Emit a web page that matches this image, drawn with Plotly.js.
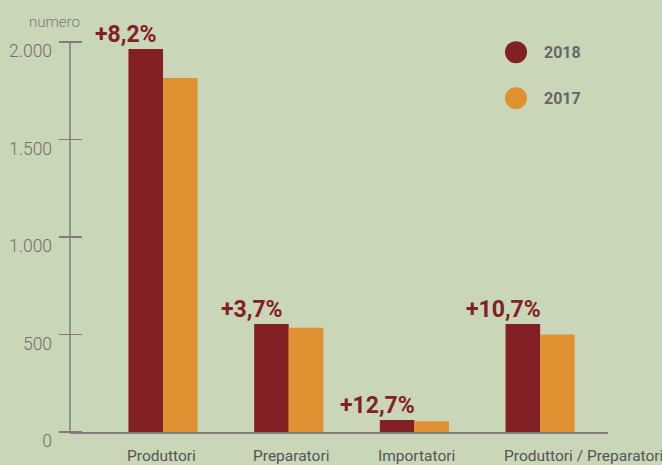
<!DOCTYPE html>
<html>
<head>
<meta charset="utf-8">
<script src="https://cdn.plot.ly/plotly-3.0.1.min.js"></script>
<style>html,body{margin:0;padding:0;background:#c9d7b8;}#chart{width:662px;height:465px;}</style>
</head>
<body>
<div id="chart"></div>
<script>
var categories = ["Produttori", "Preparatori", "Importatori", "Produttori / Preparatori"];
var values2018 = [1964, 554, 62, 554];
var values2017 = [1815, 534, 55, 500];
var changeLabels = ["+8,2%", "+3,7%", "+12,7%", "+10,7%"];
var seriesNames = ["2018", "2017"];
var seriesColors = ["#832025", "#e09232"];
var yTickVals = [0, 500, 1000, 1500, 2000];
var yTickText = ["0", "500", "1.000", "1.500", "2.000"];

var traces = [
  {type: "bar", x: categories, y: values2018, name: seriesNames[0], marker: {color: seriesColors[0]}, showlegend: false, hoverinfo: "skip"},
  {type: "bar", x: categories, y: values2017, name: seriesNames[1], marker: {color: seriesColors[1]}, showlegend: false, hoverinfo: "skip"}
];

var annotations = [];
var shapes = [];
categories.forEach(function(c, i) {
  annotations.push({
    x: i, y: values2018[i], xref: "x", yref: "y",
    text: changeLabels[i], showarrow: false,
    xanchor: "center", yanchor: "bottom", xshift: -37, yshift: -1,
    font: {family: "Roboto, sans-serif", size: 23, color: "#832025", weight: 700}
  });
  annotations.push({
    x: i, y: 0, xref: "x", yref: "paper",
    text: c, showarrow: false,
    xanchor: "left", yanchor: "top", xshift: -38, yshift: -13,
    font: {family: "Roboto, sans-serif", size: 15.5, color: "#555555"}
  });
});
annotations.push({
  x: 0.0223, y: 1.051, xref: "paper", yref: "paper", xanchor: "right", yanchor: "middle",
  text: "numero", showarrow: false,
  font: {family: "Roboto, sans-serif", size: 15, color: "#777777", weight: 300}
});
// vertical axis line at the left edge of the plot area
shapes.push({
  type: "line", xref: "paper", yref: "paper", layer: "above",
  x0: 0, x1: 0, y0: 0, y1: 1, line: {color: "#7d7d7d", width: 1.5}
});
var legendY = [0.974, 0.856];
seriesNames.forEach(function(n, i) {
  shapes.push({
    type: "circle", xref: "paper", yref: "paper", xsizemode: "pixel", ysizemode: "pixel",
    xanchor: 0.829, yanchor: legendY[i], x0: -11, x1: 11, y0: -11, y1: 11,
    fillcolor: seriesColors[i], line: {width: 0}
  });
  annotations.push({
    x: 0.877, y: legendY[i], xref: "paper", yref: "paper", xanchor: "left", yanchor: "middle",
    text: n, showarrow: false,
    font: {family: "Roboto, sans-serif", size: 16, color: "#666666", weight: 700}
  });
});

var layout = {
  width: 662, height: 465,
  margin: {l: 70, r: 54, t: 42, b: 33, pad: 0},
  paper_bgcolor: "#c9d7b8", plot_bgcolor: "#c9d7b8",
  bargap: 0.45, bargroupgap: 0, barmode: "group",
  showlegend: false,
  xaxis: {
    type: "category", range: [-0.74, 3.54], showgrid: false, zeroline: false,
    showline: true, linecolor: "#7d7d7d", linewidth: 1.5,
    ticks: "", showticklabels: false
  },
  yaxis: {
    anchor: "free", position: 0.0215,
    range: [0, 2000], showgrid: false, zeroline: false,
    showline: false,
    ticks: "outside", ticklen: 23, tickcolor: "#7d7d7d", tickwidth: 1.5,
    tickvals: yTickVals, ticktext: yTickText, ticklabelshift: 9, ticklabelstandoff: 3,
    tickfont: {family: "Roboto, sans-serif", size: 17.5, color: "#6e6e6e", weight: 300}
  },
  annotations: annotations,
  shapes: shapes
};

Plotly.newPlot("chart", traces, layout, {displayModeBar: false, staticPlot: true});
</script>
</body>
</html>
